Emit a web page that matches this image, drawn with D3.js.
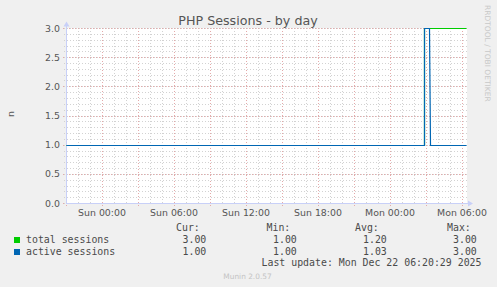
<!DOCTYPE html>
<html>
<head>
<meta charset="utf-8">
<script src="https://cdn.jsdelivr.net/npm/d3@7"></script>
<style>
  body { margin: 0; background: #f0f0f0; }
  svg { display: block; }
  text { font-family: "DejaVu Sans", sans-serif; fill: #555; }
  .mono { font-family: "DejaVu Sans Mono", monospace; font-size: 9.9px; fill: #4a4a4a; }
</style>
</head>
<body>
<script>
var width = 497,
    height = 287;

// data
var seriesNames = ["total sessions", "active sessions"];
var seriesColors = ["#00cc00", "#0066b3"];
var totalTimes = ["2025-12-20T21:00", "2025-12-22T02:50", "2025-12-22T02:50", "2025-12-22T06:20"];
var totalValues = [1, 1, 3, 3];
var activeTimes = ["2025-12-20T21:00", "2025-12-22T02:50", "2025-12-22T02:50", "2025-12-22T03:15", "2025-12-22T03:20", "2025-12-22T06:20"];
var activeValues = [1, 1, 3, 3, 1, 1];
var curValues = ["3.00", "1.00"];
var minValues = ["1.00", "1.00"];
var avgValues = ["1.20", "1.03"];
var maxValues = ["3.00", "3.00"];
var xTickTimes = ["2025-12-21T00:00", "2025-12-21T06:00", "2025-12-21T12:00", "2025-12-21T18:00", "2025-12-22T00:00", "2025-12-22T06:00"];
var xTickLabels = ["Sun 00:00", "Sun 06:00", "Sun 12:00", "Sun 18:00", "Mon 00:00", "Mon 06:00"];
var yTicks = [0, 0.5, 1, 1.5, 2, 2.5, 3];
var lastUpdate = "Last update: Mon Dec 22 06:20:29 2025";

var parse = d3.timeParse("%Y-%m-%dT%H:%M");
var startTime = parse("2025-12-20T21:00"),
    endTime = parse("2025-12-22T06:20");

var svg = d3.select("body").append("svg").attr("width", width).attr("height", height);

var x = d3.scaleTime().domain([startTime, endTime]).range([66, 466]);
var y = d3.scaleLinear().domain([0, 3]).range([203, 28]);

function px(v) { return Math.round(v) + 0.5; }

// canvas
svg.append("rect").attr("x", 67).attr("y", 28).attr("width", 400).attr("height", 175).attr("fill", "#fff");

var grid = svg.append("g");
// minor grid
var minorX = x.ticks(d3.timeHour.every(1));
var minorY = d3.range(0, 31).map(d => d / 10);
grid.selectAll("line.mx").data(minorX).enter().append("line")
    .attr("x1", d => px(x(d))).attr("x2", d => px(x(d)))
    .attr("y1", 28).attr("y2", 205)
    .attr("stroke", "#d2d2d2").attr("stroke-dasharray", "1,2");
grid.selectAll("line.my").data(minorY).enter().append("line")
    .attr("y1", d => px(y(d))).attr("y2", d => px(y(d)))
    .attr("x1", 64).attr("x2", 467)
    .attr("stroke", "#d2d2d2").attr("stroke-dasharray", "1,2");
// major grid
var majorX = x.ticks(d3.timeHour.every(3));
grid.selectAll("line.Mx").data(majorX).enter().append("line")
    .attr("x1", d => px(x(d))).attr("x2", d => px(x(d)))
    .attr("y1", 28).attr("y2", 206)
    .attr("stroke", "#e4aaaa").attr("stroke-dasharray", "1,2");
grid.selectAll("line.My").data(yTicks).enter().append("line")
    .attr("y1", d => px(y(d))).attr("y2", d => px(y(d)))
    .attr("x1", 63).attr("x2", 467)
    .attr("stroke", "#e4aaaa").attr("stroke-dasharray", "1,2");

// axes
var axisColor = "#c8d0f8";
svg.append("line").attr("x1", 66.5).attr("x2", 66.5).attr("y1", 203).attr("y2", 24).attr("stroke", axisColor);
svg.append("line").attr("x1", 66).attr("x2", 470).attr("y1", 203.5).attr("y2", 203.5).attr("stroke", axisColor);
svg.append("path").attr("d", "M63.5,26.5L66.5,21.5L69.5,26.5Z").attr("fill", axisColor);
svg.append("path").attr("d", "M468,200.5L473,203.5L468,206.5Z").attr("fill", axisColor);

// tick labels
svg.append("g").selectAll("text").data(yTicks).enter().append("text")
    .attr("x", 60).attr("y", d => y(d) + 3.6)
    .attr("text-anchor", "end").attr("font-size", "9.4px")
    .text(d3.format(".1f"));
svg.append("g").selectAll("text").data(xTickTimes).enter().append("text")
    .attr("x", d => x(parse(d))).attr("y", 215.5)
    .attr("text-anchor", "middle").attr("font-size", "9.4px")
    .text((d, i) => xTickLabels[i]);

// lines
var line = d3.line().x(d => px(x(d.t))).y(d => px(y(d.v)));
var series = [
    totalTimes.map((t, i) => ({t: parse(t), v: totalValues[i]})),
    activeTimes.map((t, i) => ({t: parse(t), v: activeValues[i]}))
];
svg.append("g").selectAll("path").data(series).enter().append("path")
    .attr("d", line).attr("fill", "none")
    .attr("stroke", (d, i) => seriesColors[i]).attr("stroke-width", 1.2);

// titles
svg.append("text").attr("x", 248).attr("y", 24.7).attr("text-anchor", "middle")
    .attr("font-size", "12.7px").text("PHP Sessions - by day");
svg.append("text").attr("transform", "translate(13.5,114) rotate(-90)")
    .attr("text-anchor", "middle").attr("font-size", "9.4px").text("n");
svg.append("text").attr("transform", "translate(485,5) rotate(90)")
    .attr("font-size", "7.5px").style("fill", "#c8c8c8").text("RRDTOOL / TOBI OETIKER");
svg.append("text").attr("x", 247.5).attr("y", 278.5).attr("text-anchor", "middle")
    .attr("font-size", "7.4px").style("fill", "#c4c4c4").text("Munin 2.0.57");

// legend
var leg = svg.append("g");
var heads = [["Cur:", 176], ["Min:", 266.5], ["Avg:", 355], ["Max:", 447]];
leg.selectAll("text.h").data(heads).enter().append("text").attr("class", "mono")
    .attr("x", d => d[1]).attr("y", 230.5).text(d => d[0]);
var cols = [[curValues, 182.5], [minValues, 273], [avgValues, 363], [maxValues, 453]];
seriesNames.forEach(function (name, i) {
    var yy = 242.5 + i * 12;
    leg.append("rect").attr("x", 14).attr("y", yy - 5.5).attr("width", 6).attr("height", 6)
        .attr("fill", seriesColors[i]);
    leg.append("text").attr("class", "mono").attr("x", 26).attr("y", yy).text(name);
    cols.forEach(function (c) {
        leg.append("text").attr("class", "mono").attr("x", c[1]).attr("y", yy).text(c[0][i]);
    });
});
leg.append("text").attr("class", "mono").attr("x", 261.5).attr("y", 266.3).text(lastUpdate);
</script>
</body>
</html>
